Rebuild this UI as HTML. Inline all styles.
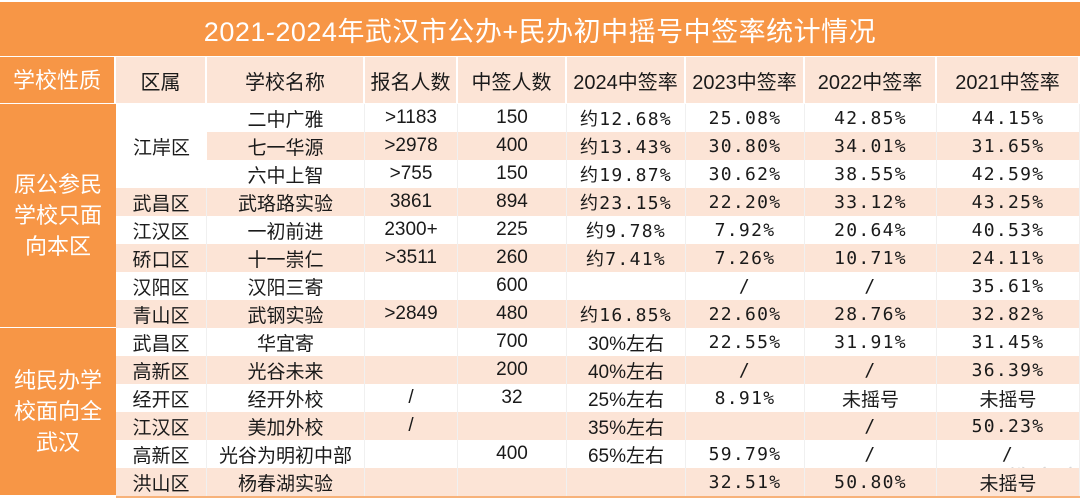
<!DOCTYPE html>
<html><head><meta charset="utf-8"><style>
body{margin:0;width:1080px;height:501px;background:#fff;overflow:hidden;font-family:"Liberation Sans","Noto Sans CJK SC",sans-serif;position:relative}
.c{position:absolute;display:flex;align-items:center;justify-content:center;color:#1a1a1a;font-size:19px;box-sizing:border-box;white-space:nowrap}
#title{left:0;top:2px;width:1080px;height:54px;background:#f79646;color:#fff;font-size:27px;letter-spacing:0.5px}
.h{background:#fce4d6;top:57px;height:46px;font-size:20px;border-right:2px solid #fff}
.o{background:#f79646;color:#fff;font-size:22px;line-height:31px;text-align:center}
.p{background:#fce4d6}
.m{font-family:"DejaVu Sans Mono","Noto Sans CJK SC",monospace;font-size:18px;letter-spacing:1.3px}
</style></head><body>
<div id="title" class="c">2021-2024年武汉市公办+民办初中摇号中签率统计情况</div>
<div id="tbl"></div>
<div class="c" style="left:1010px;top:458px;width:70px;height:40px;color:rgba(200,200,200,0.7);font-size:26px">教育宝</div>
<script>
const cols=[0,116,207,365,458,567,686,805,937,1080];
const headers=["学校性质","区属","学校名称","报名人数","中签人数","2024中签率","2023中签率","2022中签率","2021中签率"];
const schools=["二中广雅","七一华源","六中上智","武珞路实验","一初前进","十一崇仁","汉阳三寄","武钢实验","华宜寄","光谷未来","经开外校","美加外校","光谷为明初中部","杨春湖实验"];
const districts=["江岸区","","","武昌区","江汉区","硚口区","汉阳区","青山区","武昌区","高新区","经开区","江汉区","高新区","洪山区"];
const applicants=[">1183",">2978",">755","3861","2300+",">3511","",">2849","","","/","/","",""];
const winners=["150","400","150","894","225","260","600","480","700","200","32","","400",""];
const r2024=["约12.68%","约13.43%","约19.87%","约23.15%","约9.78%","约7.41%","","约16.85%","30%左右","40%左右","25%左右","35%左右","65%左右",""];
const r2023=["25.08%","30.80%","30.62%","22.20%","7.92%","7.26%","/","22.60%","22.55%","/","8.91%","","59.79%","32.51%"];
const r2022=["42.85%","34.01%","38.55%","33.12%","20.64%","10.71%","/","28.76%","31.91%","/","未摇号","/","/","50.80%"];
const r2021=["44.15%","31.65%","42.59%","43.25%","40.53%","24.11%","35.61%","32.82%","31.45%","36.39%","未摇号","50.23%","/","未摇号"];
const groups=[["原公参民<br>学校只面<br>向本区",0,8],["纯民办学<br>校面向全<br>武汉",8,14]];
const T=104,RH=28;
function mk(x,y,w,h,txt,cls,name){const d=document.createElement('div');d.className='c '+(cls||'');
d.style.left=x+'px';d.style.top=y+'px';d.style.width=w+'px';d.style.height=h+'px';d.innerHTML=txt;


document.body.appendChild(d);return d;}
headers.forEach((h,i)=>{const d=mk(cols[i],57,cols[i+1]-cols[i],46,h,i==0?'o h':'h','header-'+i);if(i==0){d.style.background='#f79646';d.style.fontSize='22px';}});
for(let r=0;r<14;r++){
 const y=T+r*RH, cls=(r%2)?'p':'';
 const vals=[districts[r],schools[r],applicants[r],winners[r],r2024[r],r2023[r],r2022[r],r2021[r]];
 vals.forEach((v,j)=>{const c=j+1;
  if(c==1 && r<3){ if(r==0) mk(cols[1],y,cols[2]-cols[1],RH*3,'江岸区','','district-cell'); return;}
  const mono=(c>=5 && (v.indexOf('.')>=0 || v=='/'));
  const d=mk(cols[c],y,cols[c+1]-cols[c],RH,v,cls+(mono?' m':''),'cell-r'+r+'-c'+c);
  d.style.borderRight='1px solid #f0f0f0';
 });
}
groups.forEach((g,i)=>{const d=mk(0,T+g[1]*RH,116,(g[2]-g[1])*RH,g[0],'o','group-label-'+i);d.style.borderBottom='1px solid #fff';});
const b=document.createElement('div');b.style.cssText='position:absolute;left:116px;top:496px;width:964px;height:2px;background:#f7b27a';


document.body.appendChild(b);
</script>
</body></html>
